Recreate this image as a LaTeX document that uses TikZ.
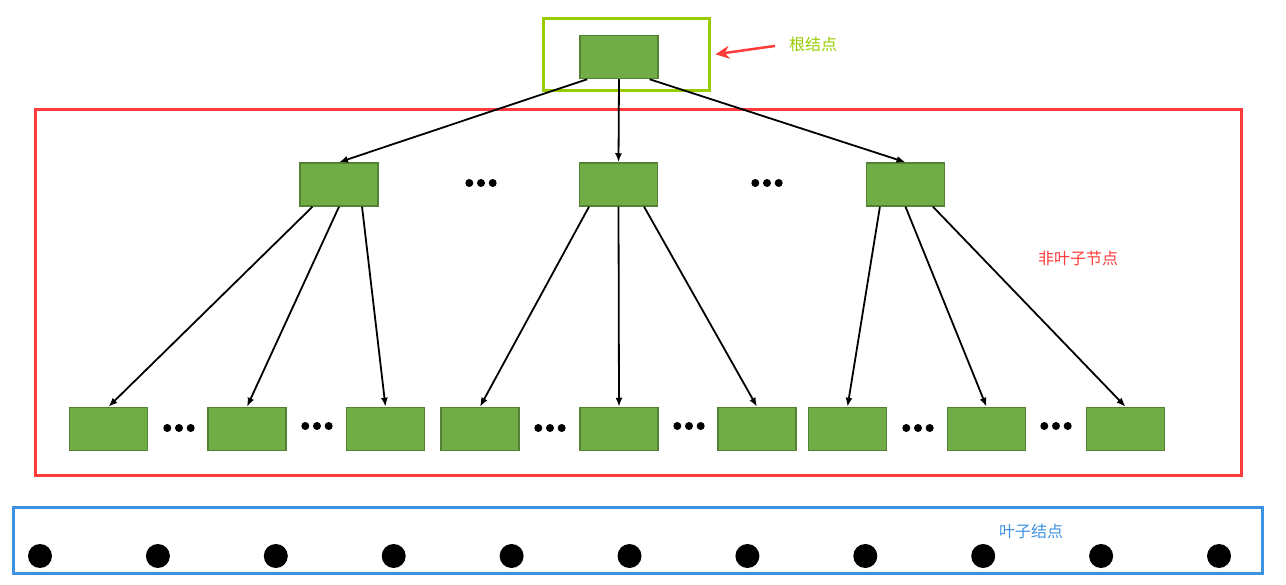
\documentclass[tikz,border=0pt]{standalone}
\usepackage{fontspec}
\newfontfamily\cjk{Noto Sans CJK SC}
\usetikzlibrary{arrows.meta}
\definecolor{keygreen}{HTML}{70AD47}
\definecolor{keyborder}{HTML}{548235}
\definecolor{rootlime}{HTML}{99CC00}
\definecolor{innerred}{HTML}{FF3B3B}
\definecolor{leafblue}{HTML}{3C92E0}
\tikzset{
  keynode/.style={draw=keyborder,fill=keygreen,line width=1.5pt,minimum width=78pt,minimum height=43pt,inner sep=0pt},
  leafdot/.style={circle,fill=black,minimum size=24pt,inner sep=0pt},
  dotsep/.style={minimum width=32pt,minimum height=8pt,inner sep=0pt,
    path picture={\foreach \dx in {-11.7,0,11.7}
      \fill ([xshift=\dx pt]path picture bounding box.center) circle (4pt);}},
  link/.style={line width=1.8pt,-{Latex[length=9pt,width=7pt]}},
  tag/.style={font=\cjk\fontsize{16}{18}\selectfont,inner sep=0pt}
}

\begin{document}
\begin{tikzpicture}[x=1pt,y=-1pt]
\useasboundingbox (0,0) rectangle (1286,585);
% frames
\draw (626,55) node[draw=rootlime,line width=3pt,minimum width=166pt,minimum height=72pt](RootBox) {};
\draw (638,292.5) node[draw=innerred,line width=3pt,minimum width=1206pt,minimum height=365pt](InnerBox) {};
\draw (637.5,540) node[draw=leafblue,line width=3pt,minimum width=1249pt,minimum height=66pt](LeafBox) {};
\draw (813,44) node[tag,text=rootlime](RootTag) {根结点};
\draw (1078,258) node[tag,text=innerred](InnerTag) {非叶子节点};
\draw (1031,531) node[tag,text=leafblue](LeafTag) {叶子结点};
% root
\draw (619,57) node[keynode](Root) {};
	% middle level
	\draw (339,184.5) node[keynode](M1) {};
	\draw (618.5,184.5) node[keynode](M2) {};
	\draw (905.5,184.5) node[keynode](M3) {};
	\draw (481,183) node[dotsep](MDots1) {};
	\draw (767,183) node[dotsep](MDots2) {};
		% lower level
		\draw (108.5,429) node[keynode](B1) {};
		\draw (247,429) node[keynode](B2) {};
		\draw (385.5,429) node[keynode](B3) {};
		\draw (480,429) node[keynode](B4) {};
		\draw (619,429) node[keynode](B5) {};
		\draw (757,429) node[keynode](B6) {};
		\draw (847.5,429) node[keynode](B7) {};
		\draw (986.5,429) node[keynode](B8) {};
		\draw (1125.5,429) node[keynode](B9) {};
		\draw (179,428) node[dotsep](BDots1) {};
		\draw (317,426) node[dotsep](BDots2) {};
		\draw (550,428) node[dotsep](BDots3) {};
		\draw (689,426) node[dotsep](BDots4) {};
		\draw (918,428) node[dotsep](BDots5) {};
		\draw (1056,426) node[dotsep](BDots6) {};
% leaves
\foreach \i in {0,...,10}
	\draw (40+117.9*\i,556) node[leafdot](L\i) {};

\draw[line width=2.5pt,color=innerred,-{Stealth[length=14pt,width=13pt]},shorten <=14pt,shorten >=5pt] (RootTag.west) -- (RootBox.east);
\draw[link] (Root.215) -- (M1.north);
\draw[link] (Root.south) -- (M2.north);
\draw[link] (Root.324) -- (M3.north);
\draw[link] (M1.220) -- (B1.north);
\draw[link] (M1.south) -- (B2.north);
\draw[link] (M1.316) -- (B3.north);
\draw[link] (M2.217) -- (B4.north);
\draw[link] (M2.south) -- (B5.north);
\draw[link] (M2.319) -- (B6.north);
\draw[link] (M3.221) -- (B7.north);
\draw[link] (M3.south) -- (B8.north);
\draw[link] (M3.321) -- (B9.north);
\end{tikzpicture}
\end{document}
